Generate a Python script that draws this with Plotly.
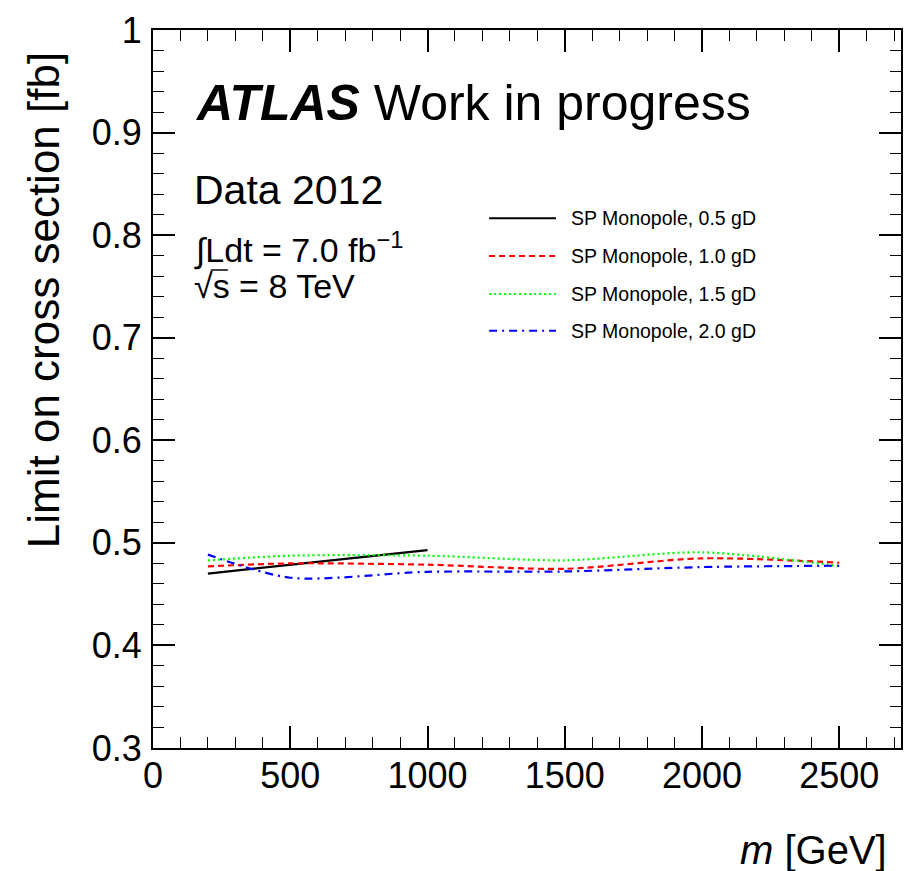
import plotly.graph_objects as go

# Monopole mass points [GeV] and cross-section limits [fb]
mass_05 = [200, 1000]
limit_05 = [0.470, 0.493]

mass = [200, 500, 1000, 1500, 2000, 2500]
limit_10 = [0.477, 0.480, 0.4787, 0.4747, 0.4849, 0.4806]
limit_15 = [0.4829, 0.4875, 0.4875, 0.4830, 0.4908, 0.4774]
limit_20 = [0.4885, 0.4660, 0.4718, 0.4721, 0.4764, 0.4777]

series_names = ["SP Monopole, 0.5 gD", "SP Monopole, 1.0 gD",
                "SP Monopole, 1.5 gD", "SP Monopole, 2.0 gD"]
series_colors = ["#000000", "#ff0000", "#00ff00", "#0000ff"]
series_dash = ["solid", "6px,4px", "2px,3px", "8px,5px,2px,5px"]

x_ticks = [0, 500, 1000, 1500, 2000, 2500]
y_ticks = [0.3, 0.4, 0.5, 0.6, 0.7, 0.8, 0.9, 1.0]
y_ticktext = ["0.3", "0.4", "0.5", "0.6", "0.7", "0.8", "0.9", "1"]

W, H = 913, 871
ML, MR, MT, MB = 153, 10, 27, 123
PW, PH = W - ML - MR, H - MT - MB
FONT = "Liberation Sans, Arial, Helvetica, sans-serif"


def px(xp):
    return (xp - ML) / PW


def py(yp):
    return (H - MB - yp) / PH


fig = go.Figure()
xs_all = [mass_05, mass, mass, mass]
ys_all = [limit_05, limit_10, limit_15, limit_20]
for xs, ys, name, col, dash in zip(xs_all, ys_all, series_names, series_colors, series_dash):
    fig.add_trace(go.Scatter(
        x=xs, y=ys, mode="lines", name=name,
        line=dict(color=col, width=2.2, dash=dash, shape="spline", smoothing=0.8),
        showlegend=False,
    ))

axis_common = dict(
    showline=True, linecolor="black", linewidth=2, mirror="ticks",
    ticks="inside", ticklen=22, tickwidth=1.5, tickcolor="black",
    showgrid=False, zeroline=False,
    tickfont=dict(family=FONT, size=36, color="black"),
)

fig.update_xaxes(range=[0, 2725], tickvals=x_ticks,
                 minor=dict(dtick=100, ticklen=11, tickwidth=1.2, tickcolor="black", ticks="inside"),
                 ticklabelstandoff=-5,
                 **axis_common)
fig.update_yaxes(range=[0.3, 1.0], tickvals=y_ticks, ticktext=y_ticktext,
                 minor=dict(dtick=0.02, tick0=0.3, ticklen=11, tickwidth=1.2, tickcolor="black", ticks="inside"),
                 ticklabelstandoff=2,
                 **axis_common)

annotations = []
shapes = []

# Axis titles
annotations.append(dict(text="<i>m</i> [GeV]", xref="paper", yref="paper",
                        x=px(891), y=py(850), xanchor="right", yanchor="middle",
                        showarrow=False, font=dict(family=FONT, size=40, color="black")))
annotations.append(dict(text="Limit on cross section [fb]", xref="paper", yref="paper",
                        x=px(44), y=py(47), xanchor="center", yanchor="top", textangle=-90,
                        showarrow=False, font=dict(family=FONT, size=44, color="black")))

# Experiment label and run conditions
annotations.append(dict(text="<b><i>ATLAS</i></b> Work in progress", xref="paper", yref="paper",
                        x=px(193), y=py(100), xanchor="left", yanchor="middle",
                        showarrow=False, font=dict(family=FONT, size=50, color="black")))
annotations.append(dict(text="Data 2012", xref="paper", yref="paper",
                        x=px(192), y=py(188), xanchor="left", yanchor="middle",
                        showarrow=False, font=dict(family=FONT, size=41, color="black")))
annotations.append(dict(text="∫Ldt = 7.0 fb<sup>−1</sup>", xref="paper", yref="paper",
                        x=px(192), y=py(246), xanchor="left", yanchor="middle",
                        showarrow=False, font=dict(family=FONT, size=34, color="black")))
annotations.append(dict(text="√s = 8 TeV", xref="paper", yref="paper",
                        x=px(192), y=py(284), xanchor="left", yanchor="middle",
                        showarrow=False, font=dict(family=FONT, size=34, color="black")))
# overline of the square root
shapes.append(dict(type="line", xref="paper", yref="paper",
                   x0=px(211), x1=px(228), y0=py(268), y1=py(268),
                   line=dict(color="black", width=1.5)))

# Legend
legend_rows = [216, 254, 292, 329]
for yrow, name, col, dash in zip(legend_rows, series_names, series_colors, series_dash):
    shapes.append(dict(type="line", xref="paper", yref="paper",
                       x0=px(490), x1=px(557), y0=py(yrow), y1=py(yrow),
                       line=dict(color=col, width=2, dash=dash)))
    annotations.append(dict(text=name, xref="paper", yref="paper",
                            x=px(570), y=py(yrow), xanchor="left", yanchor="middle",
                            showarrow=False, font=dict(family=FONT, size=19.5, color="black")))

fig.update_layout(
    width=W, height=H,
    margin=dict(l=ML, r=MR, t=MT, b=MB, pad=0),
    plot_bgcolor="white", paper_bgcolor="white",
    annotations=annotations, shapes=shapes,
    showlegend=False,
)

fig.write_html("out.html", config={"displayModeBar": False})
